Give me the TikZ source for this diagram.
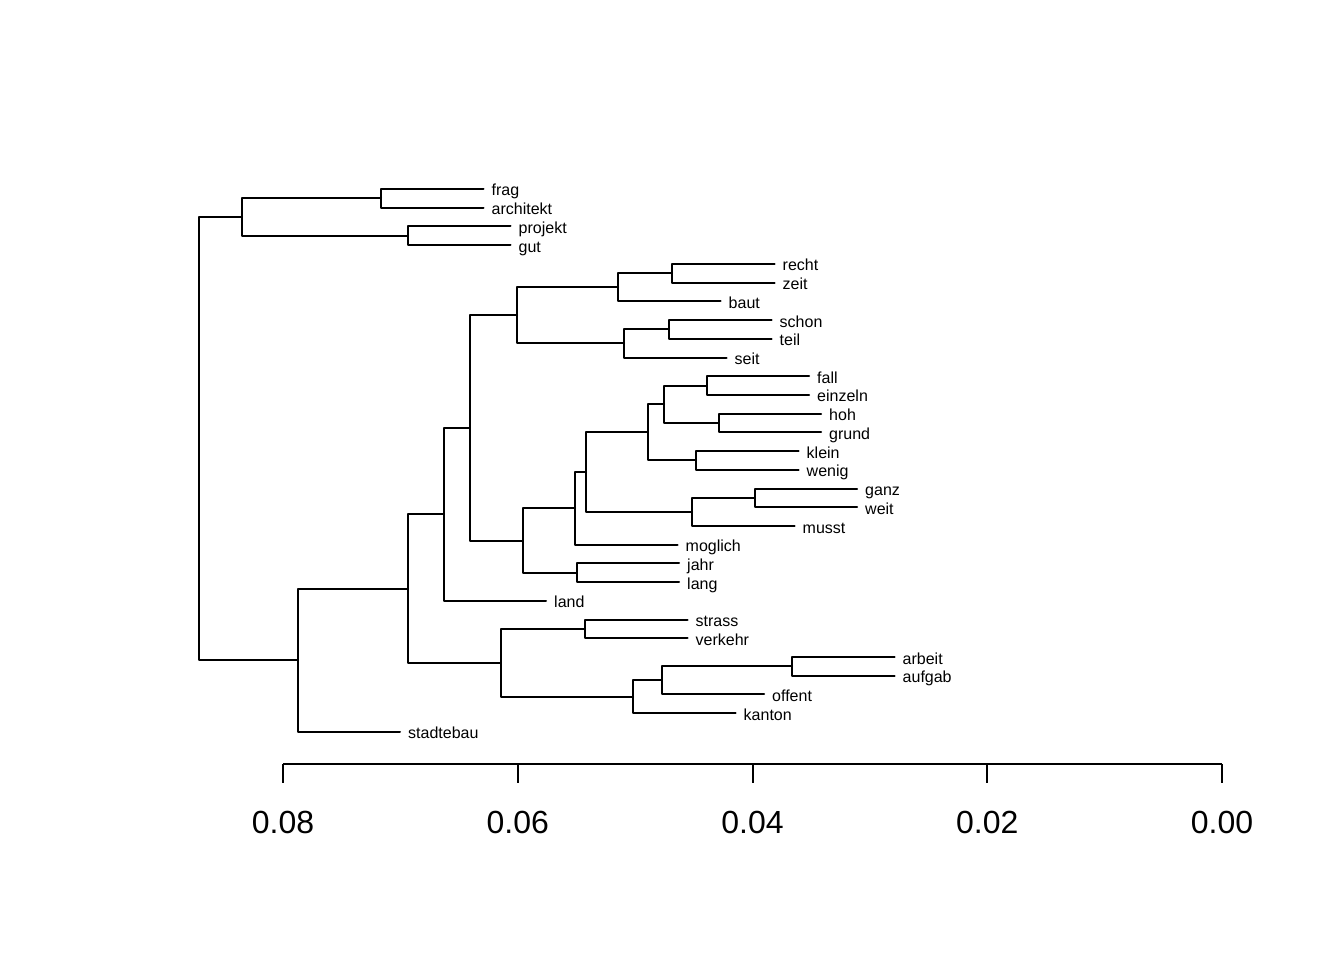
\documentclass[tikz,border=0pt]{standalone}
\usepackage{fontspec}
\setmainfont{Liberation Sans}
\newcommand\mrg[3]{\draw[branch] (#1) -- (#1 -| #2) -- (#3 -| #2) -- (#3);}
\begin{document}
\begin{tikzpicture}[x=1pt,y=-1pt,
  branch/.style={line width=2pt,line cap=round,line join=round},
  lab/.style={anchor=base west,inner sep=0pt,xshift=8pt,yshift=-7pt,font=\fontsize{16}{16}\selectfont},
  ticklab/.style={anchor=base,inner sep=0pt,font=\fontsize{32}{32}\selectfont}]
\useasboundingbox (0,0) rectangle (1344,960);
% leaf ends and labels
\foreach \n/\x/\y in {frag/483.5/189.0, architekt/483.5/207.7, projekt/510.5/226.4, gut/510.5/245.2,
  recht/774.5/263.9, zeit/774.5/282.6, baut/720.5/301.3, schon/771.5/320.0, teil/771.5/338.8,
  seit/726.5/357.5, fall/809/376.2, einzeln/809/394.9, hoh/821/413.6, grund/821/432.4,
  klein/798.5/451.1, wenig/798.5/469.8, ganz/857/488.5, weit/857/507.2, musst/794.5/526.0,
  moglich/677.5/544.7, jahr/679/563.4, lang/679/582.1, land/546/600.8, strass/687.5/619.6,
  verkehr/687.5/638.3, arbeit/894.5/657.0, aufgab/894.5/675.7, offent/764/694.4,
  kanton/735.5/713.2, stadtebau/400/731.9}{
  \coordinate (e-\n) at (\x,\y);
  \node[lab] (l-\n) at (e-\n) {\n};
}
% merge points
\coordinate (mFA) at (381,198.35);
\coordinate (mPG) at (408,235.8);
\coordinate (mT1) at (242,217.1);
\coordinate (mRZ) at (672,273.25);
\coordinate (mRZB) at (618,287.3);
\coordinate (mST) at (669,329.4);
\coordinate (mSTS) at (624,343.45);
\coordinate (mG1) at (517,315.4);
\coordinate (mFE) at (706.5,385.55);
\coordinate (mHG) at (718.5,423.0);
\coordinate (mFEHG) at (664,404.3);
\coordinate (mKW) at (696,460.45);
\coordinate (mA) at (647.5,432.4);
\coordinate (mGW) at (754.5,497.85);
\coordinate (mGWM) at (692,511.9);
\coordinate (mB) at (586,472.15);
\coordinate (mBM) at (575,508.4);
\coordinate (mJL) at (576.5,572.75);
\coordinate (mC) at (522.5,540.6);
\coordinate (mD) at (469.5,428.0);
\coordinate (mE) at (443.5,514.4);
\coordinate (mSV) at (585,628.95);
\coordinate (mAA) at (792,666.35);
\coordinate (mAAO) at (661.5,680.4);
\coordinate (mAAOK) at (633,696.8);
\coordinate (mF) at (500.5,662.9);
\coordinate (mG) at (408,588.65);
\coordinate (mH) at (297.5,660.3);
\coordinate (mTop) at (198.5,438.7);
% branches
\mrg{e-frag}{mFA}{e-architekt}
\mrg{e-projekt}{mPG}{e-gut}
\mrg{mFA}{mT1}{mPG}
\mrg{e-recht}{mRZ}{e-zeit}
\mrg{mRZ}{mRZB}{e-baut}
\mrg{e-schon}{mST}{e-teil}
\mrg{mST}{mSTS}{e-seit}
\mrg{mRZB}{mG1}{mSTS}
\mrg{e-fall}{mFE}{e-einzeln}
\mrg{e-hoh}{mHG}{e-grund}
\mrg{mFE}{mFEHG}{mHG}
\mrg{e-klein}{mKW}{e-wenig}
\mrg{mFEHG}{mA}{mKW}
\mrg{e-ganz}{mGW}{e-weit}
\mrg{mGW}{mGWM}{e-musst}
\mrg{mA}{mB}{mGWM}
\mrg{mB}{mBM}{e-moglich}
\mrg{e-jahr}{mJL}{e-lang}
\mrg{mBM}{mC}{mJL}
\mrg{mG1}{mD}{mC}
\mrg{mD}{mE}{e-land}
\mrg{e-strass}{mSV}{e-verkehr}
\mrg{e-arbeit}{mAA}{e-aufgab}
\mrg{mAA}{mAAO}{e-offent}
\mrg{mAAO}{mAAOK}{e-kanton}
\mrg{mSV}{mF}{mAAOK}
\mrg{mE}{mG}{mF}
\mrg{mG}{mH}{e-stadtebau}
\mrg{mT1}{mTop}{mH}
% axis
\coordinate (a08) at (283,764);
\coordinate (a06) at (517.75,764);
\coordinate (a04) at (752.5,764);
\coordinate (a02) at (987.25,764);
\coordinate (a00) at (1222,764);
\draw[branch,line cap=butt] (a08) -- (a00);
\foreach \t/\v in {a08/0.08,a06/0.06,a04/0.04,a02/0.02,a00/0.00}{
  \draw[line width=2pt] (\t) -- ++(0,19);
  \node[ticklab] (t-\t) at ([yshift=-69pt]\t) {\v};
}
\end{tikzpicture}
\end{document}
